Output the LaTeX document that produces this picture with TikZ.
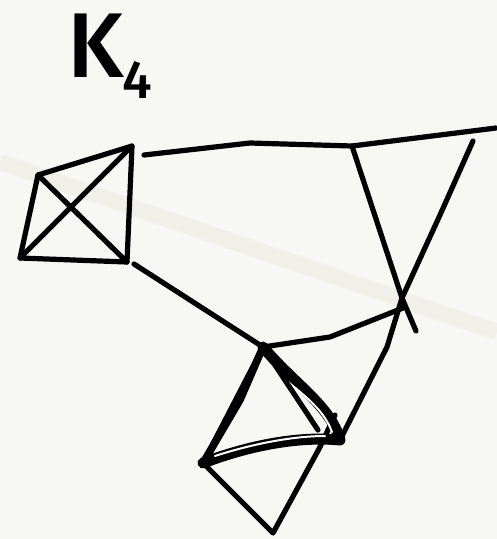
\documentclass[tikz,border=0pt]{standalone}
\usepackage{fontspec}
\newfontfamily\handfont{Fira Sans Medium}
\begin{document}
\begin{tikzpicture}[x=1pt,y=-1pt,
  stroke/.style={line width=5.2pt,line cap=round,line join=round,black},
  thickstroke/.style={line width=11pt,line cap=round,line join=round,black},
  gap/.style={line width=2pt,line cap=round,white},
  label/.style={inner sep=0pt}]
\fill[fill={rgb,255:red,247;green,247;blue,244}] (0,0) rectangle (497,539);
\useasboundingbox (0,0) rectangle (497,539);
\draw[line width=16pt,color={rgb,255:red,240;green,240;blue,232}] (0,162) -- (497,332);
% label
\node[label,font=\handfont\fontsize{92}{92}\selectfont] (K) at (96,46) {K};
\node[label,font=\handfont\fontsize{54}{54}\selectfont] (four) at (137,80) {4};
% coordinates
\coordinate (a) at (38,175);
\coordinate (b) at (132,146);
\coordinate (c) at (127,262);
\coordinate (d) at (20,258);
\coordinate (p1) at (144,155);
\coordinate (f) at (352,146);
\coordinate (g) at (496,128);
\coordinate (h) at (473,141);
\coordinate (x) at (402,298);
\coordinate (x2) at (416,331);
\coordinate (y) at (387,347);
\coordinate (c2) at (134,264);
\coordinate (t) at (263,347);
\coordinate (l) at (203,463);
\coordinate (bt) at (273,533);
\coordinate (r) at (340,440);
\coordinate (q) at (403,308);
% K4 square
\draw[stroke] (a) -- (b) -- (c) -- (d) -- cycle;
\draw[stroke] (a) -- (c);
\draw[stroke] (d) -- (b);
% top line
\draw[stroke] (p1) -- (250,143) -- (f) -- (400,140) -- (g);
\draw[stroke] (f) -- (x) -- (x2);
\draw[stroke] (h) -- (440,215) -- (x) -- (y) -- (r);
% connections to bottom square
\draw[stroke] (c2) -- (t);
\draw[stroke] (t) -- (330,337) -- (q);
% bottom square
\draw[stroke] (t) -- (l) -- (bt) -- (320,447) -- (335,415);
\draw[line width=7.5pt,line cap=round] (t) -- (240,400) -- (l);
\draw[thickstroke] (t) .. controls (295,385) and (330,405) .. (r);
\draw[gap] (272,368) .. controls (298,392) and (322,405) .. (332,432);
\draw[stroke] (t) -- (318,430);
\draw[thickstroke] (l) .. controls (250,445) and (300,436) .. (r);
\draw[gap] (215,456) .. controls (255,443) and (295,436) .. (325,436);
\end{tikzpicture}
\end{document}
